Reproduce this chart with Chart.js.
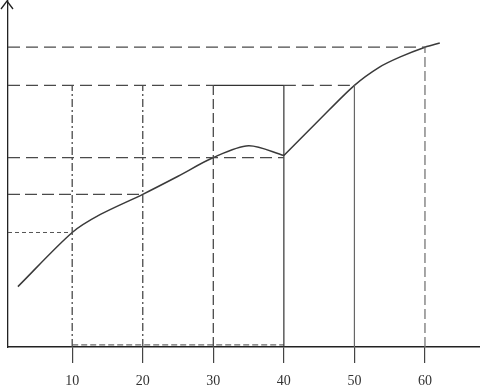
<!DOCTYPE html>
<html>
<head>
<meta charset="utf-8">
<script src="https://cdn.jsdelivr.net/npm/chart.js@4"></script>
<style>
  html, body { margin: 0; padding: 0; background: #fff; }
  #wrap { width: 480px; height: 387px; }
</style>
</head>
<body>
<div id="wrap"><canvas id="chart"></canvas></div>
<script>
// curve (x in axis units, y in arbitrary units, 0..50)
const curveX = [2.3, 10, 14, 20, 25, 30, 35, 40, 45, 50, 53.5, 56.5, 60, 62.1];
const curveY = [8.7, 16.5, 19.1, 22.0, 24.6, 27.3, 29.0, 27.6, 32.7, 37.7, 40.3, 41.8, 43.2, 43.8];
const xTicks = [10, 20, 30, 40, 50, 60];
const xMin = 0.9;
const xMax = 67.8;
const yMax = 50;

const lineColor = '#3a3a3a';
const guideColor = '#4a4a4a';

function yAt(x) {
    return curveY[curveX.indexOf(x)];
}

// split at 40 so the dip stays a sharp corner
const cut = curveX.indexOf(40);
const leftPts = curveX.slice(0, cut + 1).map((x, i) => ({ x: x, y: curveY[i] }));
const rightPts = curveX.slice(cut).map((x, i) => ({ x: x, y: curveY[cut + i] }));

function guide(points, dash, color, width) {
    return {
        data: points,
        showLine: true,
        borderColor: color || guideColor,
        borderWidth: width || 1.3,
        borderDash: dash,
        pointRadius: 0,
        tension: 0
    };
}

const boxTop = yAt(50);
const datasets = [
    // horizontal guides from the y axis
    guide([{ x: xMin, y: yAt(60) }, { x: 60, y: yAt(60) }], [12, 6]),
    guide([{ x: xMin, y: boxTop }, { x: 30, y: boxTop }], [12, 6]),
    guide([{ x: 30, y: boxTop }, { x: 40, y: boxTop }], [], '#333', 1.3),
    guide([{ x: 40, y: boxTop }, { x: 50, y: boxTop }], [12, 6]),
    guide([{ x: xMin, y: yAt(30) }, { x: 40, y: yAt(30) }], [12, 6]),
    guide([{ x: xMin, y: yAt(20) }, { x: 20, y: yAt(20) }], [12, 5]),
    guide([{ x: xMin, y: yAt(10) }, { x: 10, y: yAt(10) }], [4, 3], '#555', 1),
    // vertical guides
    guide([{ x: 10, y: 0 }, { x: 10, y: boxTop }], [8, 3, 2, 3]),
    guide([{ x: 20, y: 0 }, { x: 20, y: boxTop }], [8, 3, 2, 3]),
    guide([{ x: 30, y: 0 }, { x: 30, y: boxTop }], [10, 4]),
    guide([{ x: 40, y: 0 }, { x: 40, y: boxTop }], [], '#333', 1.2),
    guide([{ x: 50, y: 0 }, { x: 50, y: boxTop }], [], '#666', 1.2),
    guide([{ x: 60, y: 0 }, { x: 60, y: yAt(60) }], [10, 4], '#777', 1.3),
    // dashed strip along the axis
    guide([{ x: 10, y: 0.3 }, { x: 40, y: 0.3 }], [6, 3], '#444', 1),
    // the curve
    { data: leftPts, showLine: true, borderColor: lineColor, borderWidth: 1.5, pointRadius: 0, tension: 0.3 },
    { data: rightPts, showLine: true, borderColor: lineColor, borderWidth: 1.5, pointRadius: 0, tension: 0.3 }
];

const arrowPlugin = {
    id: 'arrow',
    afterDraw(chart) {
        const ctx = chart.ctx;
        const a = chart.chartArea;
        ctx.save();
        ctx.strokeStyle = '#222';
        ctx.lineWidth = 1.3;
        ctx.beginPath();
        ctx.moveTo(a.left - 7, a.top + 9);
        ctx.lineTo(a.left - 1, a.top + 1);
        ctx.lineTo(a.left + 5, a.top + 9);
        ctx.stroke();
        ctx.restore();
    }
};

new Chart(document.getElementById('chart'), {
    type: 'scatter',
    data: { datasets: datasets },
    plugins: [arrowPlugin],
    options: {
        responsive: true,
        maintainAspectRatio: false,
        animation: false,
        layout: { padding: { left: 8, top: 0, right: 0, bottom: 0 } },
        plugins: { legend: { display: false }, tooltip: { enabled: false } },
        scales: {
            x: {
                type: 'linear',
                min: xMin,
                max: xMax,
                afterBuildTicks: scale => { scale.ticks = xTicks.map(v => ({ value: v })); },
                afterFit: scale => { scale.height = 40; },
                border: { display: true, color: '#222', width: 1.5 },
                grid: { drawOnChartArea: false, drawTicks: true, tickLength: 16, color: '#444', lineWidth: 1.2 },
                ticks: {
                    padding: 10,
                    maxRotation: 0,
                    color: '#333',
                    font: { family: 'Liberation Serif', size: 14 }
                }
            },
            y: {
                min: 0,
                max: yMax,
                border: { display: true, color: '#222', width: 1.3 },
                grid: { display: false, drawTicks: false, tickLength: 0 },
                ticks: { display: false }
            }
        }
    }
});
</script>
</body>
</html>
